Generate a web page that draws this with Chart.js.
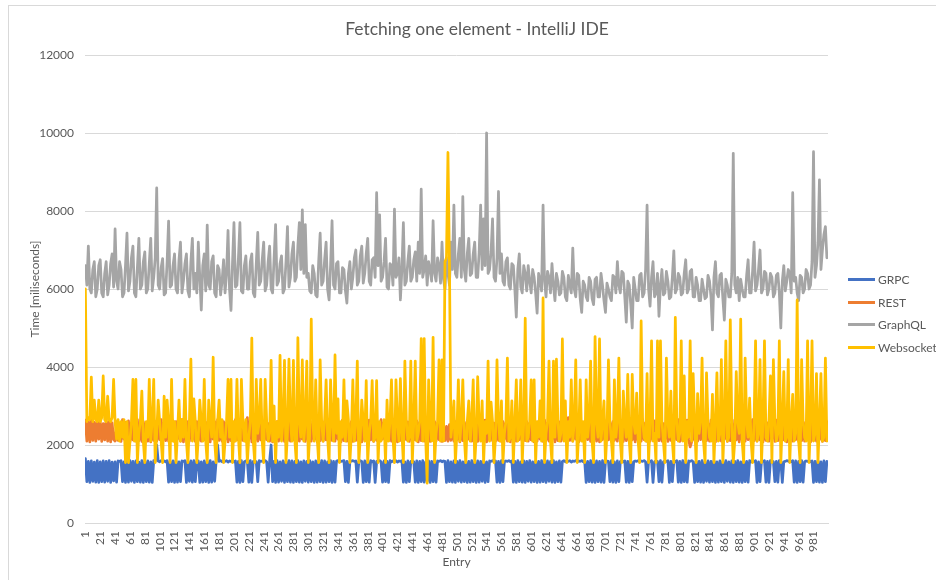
<!DOCTYPE html>
<html>
<head>
<meta charset="utf-8">
<title>Fetching one element - IntelliJ IDE</title>
<script src="https://cdn.jsdelivr.net/npm/chart.js@4.4.1/dist/chart.umd.min.js"></script>
<style>
  html, body { margin: 0; padding: 0; background: #fff; overflow: hidden; width: 936px; height: 580px; }
  #frame { position: absolute; left: 8px; top: 5px; width: 960px; height: 600px; border-left: 1px solid #d9d9d9; border-top: 1px solid #d9d9d9; }
  #chart { position: absolute; left: 0; top: 0; }
  #title { position: absolute; left: 0; width: 954px; top: 18px; text-align: center; font: 17.5px Lato, sans-serif; line-height: 22px; color: #595959; }
  #legend { position: absolute; left: 848px; top: 268px; font: 12px Lato, sans-serif; color: #595959; }
  .item { height: 22.7px; display: flex; align-items: center; }
  .swatch { width: 27px; height: 3px; margin-right: 3px; }
</style>
</head>
<body>
<div id="frame"></div>
<canvas id="chart" width="936" height="580"></canvas>
<div id="title">Fetching one element - IntelliJ IDE</div>
<div id="legend"></div>
<script>
// one value for every 2nd entry: 1, 3, 5 ... 999
const grpc = [
  1650, 1060, 1580, 1040, 1590, 1070, 1560, 1050, 1600, 1040, 1570, 1060, 1590, 1050, 1580, 1070, 1600, 1040, 1560, 1080,
  1570, 1050, 1590, 1580, 1600, 1060, 1570, 1040, 1590, 1050, 1600, 1070, 1580, 1040, 1590, 1060, 1560, 1050, 1600, 1040,
  1580, 1060, 1590, 1050, 1570, 1040, 1600, 1580, 2000, 1590, 1570, 1600, 1580, 1590, 1570, 1600, 1050, 1580, 1060, 1590,
  1040, 1600, 1050, 1570, 1060, 1590, 1580, 1600, 1040, 1580, 1070, 1590, 1050, 1600, 1060, 1580, 1590, 1040, 1570, 1050,
  1590, 1060, 1580, 1040, 1600, 1050, 1570, 1070, 1590, 2000, 1580, 1600, 1570, 1590, 1580, 1600, 1560, 1590, 1580, 1600,
  1570, 1590, 1050, 1580, 1040, 1600, 1060, 1570, 1590, 1580, 1050, 1600, 1040, 1580, 1590, 1570, 1060, 1600, 1580, 1590,
  1580, 1600, 1570, 1050, 1590, 2000, 1060, 1580, 1040, 1600, 1050, 1570, 1070, 1590, 1040, 1580, 1060, 1600, 1050, 1590,
  1040, 1580, 1060, 1600, 1050, 1570, 1040, 1590, 1070, 1580, 1050, 1600, 1060, 1570, 1040, 1590, 1050, 1580, 1060, 1600,
  1040, 1590, 1050, 1570, 1060, 1600, 1040, 1580, 1050, 1590, 1600, 1570, 1580, 1590, 1600, 1060, 1580, 1040, 1570, 1590,
  1600, 1580, 1590, 1050, 1570, 1600, 1580, 1040, 1590, 1060, 1580, 1050, 1600, 1570, 1590, 1040, 1580, 1590, 1600, 1570,
  1050, 1590, 1060, 1580, 1040, 1600, 1570, 1590, 1580, 1600, 1560, 1590, 1580, 1600, 1050, 1570, 1040, 1590, 1060, 1580,
  1600, 1570, 1050, 1590, 1040, 1580, 1060, 1600, 1050, 1570, 1070, 1590, 1040, 1580, 1060, 1600, 1050, 1590, 1580, 1600,
  1570, 1590, 1580, 1040, 1600, 1060, 1570, 1050, 1590, 1040, 1580, 1070, 1600, 1050, 1570, 1060, 1590, 1040, 1580, 1050,
  1600, 1060, 1570, 1040, 1590, 1050, 1580, 1070, 1600, 1040, 1570, 1060, 1590, 1580, 1600, 1570, 1590, 1050, 1580, 1040,
  1600, 1060, 1570, 1590, 1580, 1600, 1570, 1590, 1050, 1580, 1040, 1600, 1060, 1570, 1050, 1590, 1040, 1580, 1070, 1600,
  1050, 1570, 1060, 1590, 1040, 1580, 1050, 1600, 1060, 1570, 1040, 1590, 1070, 1580, 1050, 1600, 1040, 1570, 1060, 1590,
  1050, 1580, 1600, 1570, 1590, 1580, 1600, 1560, 1590, 1580, 1600, 1570, 1590, 1580, 1600, 1570, 1590, 1040, 1580, 1060,
  1600, 1050, 1570, 1040, 1590, 1060, 1580, 1050, 1600, 1040, 1570, 1590, 1580, 1060, 1600, 1050, 1570, 1040, 1590, 1060,
  1580, 1600, 1570, 1590, 1050, 1580, 1040, 1600, 1060, 1570, 1590, 1580, 1600, 1570, 1590, 1580, 1600, 1570, 1050, 1590,
  1580, 1600, 1040, 1570, 1590, 1580, 1060, 1600, 1050, 1570, 1590, 1580, 1600, 1040, 1580, 1060, 1590, 1570, 1600, 1050,
  1580, 1040, 1600, 1060, 1570, 1050, 1590, 1580, 1600, 1570, 1040, 1590, 1060, 1580, 1050, 1600, 1040, 1570, 1070, 1590,
  1050, 1580, 1060, 1600, 1040, 1570, 1050, 1590, 1060, 1580, 1040, 1600, 1070, 1570, 1050, 1590, 1040, 1580, 1060, 1600,
  1050, 1570, 1040, 1590, 1060, 1580, 1050, 1600, 1570, 1590, 1580, 1600, 1040, 1570, 1060, 1590, 1580, 1600, 1050, 1580,
  1040, 1600, 1590, 1570, 1060, 1580, 1050, 1600, 1590, 1040, 1570, 1580, 1600, 1590, 1570, 1580, 1600, 1050, 1590, 1040,
  1580, 1060, 1600, 1050, 1570, 1590, 1580, 1600, 1570, 1590, 1040, 1580, 1060, 1600, 1050, 1570, 1040, 1590, 1060, 1580
]

const rest = [
  2640, 2100, 2600, 2080, 2650, 2120, 2580, 2100, 2620, 2150, 2600, 2090, 2550, 2130, 2650, 2100, 2600, 2080, 2570, 2140,
  2100, 2600, 2120, 2550, 2090, 2650, 2150, 2580, 2100, 2620, 2080, 2560, 2130, 2600, 2100, 2650, 2110, 2540, 2090, 2600,
  2150, 2580, 2100, 2640, 2080, 2560, 2120, 2600, 2100, 2550, 2140, 2650, 2090, 2580, 2110, 2600, 2100, 2560, 2130, 2620,
  2090, 2600, 2150, 2550, 2100, 2650, 2080, 2570, 2120, 2600, 2100, 2640, 2140, 2560, 2090, 2600, 2110, 2550, 2100, 2650,
  2130, 2580, 2100, 2620, 2080, 2560, 2150, 2600, 2090, 2650, 2120, 2550, 2100, 2600, 2140, 2570, 2080, 2640, 2110, 2590,
  2100, 2650, 2130, 2560, 2090, 2600, 2120, 2550, 2100, 2700, 2150, 2580, 2080, 2600, 2110, 2560, 2100, 2640, 2130, 2570,
  2090, 2600, 2140, 2550, 2100, 2650, 2080, 2590, 2120, 2600, 2100, 2560, 2150, 2640, 2090, 2580, 2110, 2600, 2100, 2550,
  2130, 2620, 2080, 2560, 2100, 2600, 2150, 2570, 2090, 2650, 2120, 2550, 2100, 2600, 2140, 2580, 2080, 2640, 2110, 2560,
  2100, 2600, 2130, 2550, 2090, 2650, 2120, 2580, 2100, 2600, 2150, 2560, 2080, 2640, 2110, 2590, 2100, 2550, 2140, 2600,
  2090, 2570, 2120, 2650, 2100, 2560, 2080, 2600, 2140, 2550, 2100, 2640, 2130, 2580, 2090, 2600, 2120, 2560, 2100, 2650,
  2150, 2580, 2090, 2600, 2110, 2550, 2100, 2640, 2130, 2570, 2080, 2600, 2120, 2560, 2100, 2650, 2140, 2590, 2090, 2600,
  2100, 2550, 2130, 2620, 2080, 2580, 2110, 2600, 2100, 2560, 2150, 2640, 2090, 2570, 2120, 2600, 2100, 2550, 2140, 2650,
  2090, 2500, 2110, 2480, 2100, 2520, 2120, 2460, 2100, 2600, 2130, 2560, 2080, 2640, 2110, 2580, 2100, 2600, 2150, 2550,
  2100, 2650, 2120, 2570, 2090, 2600, 2140, 2550, 2100, 2640, 2080, 2580, 2130, 2600, 2110, 2560, 2100, 2650, 2120, 2590,
  2090, 2600, 2150, 2560, 2100, 2640, 2080, 2570, 2120, 2600, 2100, 2550, 2140, 2650, 2090, 2580, 2110, 2600, 2100, 2560,
  2130, 2620, 2080, 2550, 2100, 2600, 2150, 2580, 2090, 2640, 2120, 2560, 2100, 2600, 2140, 2570, 2080, 2650, 2110, 2590,
  2100, 2600, 2130, 2560, 2090, 2700, 2120, 2580, 2100, 2600, 2150, 2550, 2080, 2640, 2110, 2570, 2100, 2600, 2140, 2560,
  2090, 2650, 2120, 2580, 2100, 2560, 2080, 2600, 2140, 2550, 2100, 2640, 2130, 2570, 2090, 2600, 2120, 2560, 2100, 2650,
  2150, 2590, 2090, 2600, 2110, 2550, 2100, 2640, 2130, 2580, 2080, 2600, 2120, 2560, 2100, 2650, 2140, 2570, 2090, 2600,
  2100, 2560, 2130, 2620, 2080, 2580, 2110, 2600, 2100, 2550, 2150, 2640, 2090, 2570, 2120, 2600, 2100, 2560, 2140, 2650,
  2090, 2600, 2110, 2550, 2100, 2640, 2130, 1950, 2080, 2600, 2120, 2560, 2100, 2650, 2140, 2580, 2090, 2600, 2110, 2550,
  2100, 2640, 2130, 2570, 2080, 2600, 2120, 2560, 2100, 2650, 2150, 2580, 2090, 2600, 2110, 2550, 2100, 2640, 2130, 2570,
  2080, 2700, 2120, 2560, 2100, 2600, 2140, 2550, 2090, 2650, 2110, 2580, 2100, 2600, 2130, 2560, 2080, 2640, 2120, 2570,
  2100, 2600, 2150, 2550, 2090, 2640, 2110, 2580, 2100, 2600, 2130, 2560, 2080, 2650, 2120, 2570, 2100, 2600, 2140, 2550,
  2090, 2640, 2110, 2580, 2100, 2600, 2130, 2560, 2080, 2650, 2120, 2570, 2100, 2600, 2140, 2550, 2090, 2640, 2110, 2600
]

const graphql = [
  6600, 6100, 7100, 6000, 5900, 6500, 6700, 5800, 6000, 6600, 6750, 5900, 5800, 6400, 6700, 5850, 6100, 6650, 6900, 6050,
  7540, 6200, 6000, 6700, 6500, 5800, 5900, 6600, 7430, 5950, 6200, 6800, 7100, 5900, 5800, 6550, 7300, 6000, 6100, 6700,
  6950, 5900, 6000, 6650, 7300, 5950, 6300, 6800, 8590, 6100, 6000, 6550, 6780, 5850, 5900, 6700, 7740, 6050, 6100, 6600,
  6900, 6000, 5900, 6750, 7200, 5900, 6200, 6650, 6900, 5950, 5800, 6700, 7300, 6000, 6400, 5900, 7200, 6300, 5460, 6600,
  6900, 5950, 7640, 6100, 6000, 6700, 6850, 5900, 5800, 6600, 6500, 5850, 6200, 6750, 5900, 6400, 7500, 6000, 5450, 6650,
  7700, 6050, 6100, 6800, 7700, 5950, 5900, 6600, 6850, 6000, 6000, 6700, 6900, 5900, 5800, 6650, 7450, 6100, 6200, 6750,
  7200, 5950, 6100, 6700, 7100, 6000, 5900, 6800, 7650, 6100, 6200, 6650, 6850, 5900, 6000, 6700, 7600, 6050, 6300, 6900,
  7200, 6200, 6300, 7100, 7700, 6500, 8030, 6400, 7650, 6300, 6400, 5950, 5900, 6600, 6400, 5850, 5800, 6700, 7430, 6100,
  6200, 6750, 7200, 6000, 5720, 6600, 7750, 6100, 6000, 6650, 6700, 5900, 5900, 6550, 6500, 5950, 5640, 6400, 6700, 6000,
  6300, 6800, 7000, 6100, 6200, 6850, 7100, 6150, 6400, 6900, 7300, 6200, 6100, 6750, 6800, 6300, 8470, 6600, 7900, 6200,
  6300, 6700, 7300, 6050, 6000, 6650, 6600, 6100, 8050, 6300, 6400, 6800, 5720, 6500, 7700, 6100, 6200, 6700, 7100, 6200,
  6300, 6750, 6950, 6200, 7200, 6400, 8560, 6300, 6500, 6850, 6100, 6700, 6500, 6200, 7750, 6400, 6200, 6800, 6600, 6150,
  7200, 6250, 6000, 6800, 6400, 6100, 7200, 6500, 8150, 6400, 6300, 6900, 7300, 6300, 8370, 6500, 6200, 6900, 7300, 6350,
  6400, 6900, 7200, 6300, 6300, 6950, 8150, 6500, 7800, 6600, 10000, 6400, 6500, 6950, 7800, 6300, 6200, 6800, 8500, 6400,
  6900, 6200, 6100, 6700, 6800, 6100, 6000, 6650, 6600, 6000, 5280, 6500, 6900, 6050, 5900, 6600, 6400, 5950, 6600, 6200,
  5900, 6500, 6300, 5900, 5380, 6400, 6200, 5950, 8150, 6200, 5800, 6450, 6300, 5900, 6650, 6100, 5700, 6400, 6200, 5850,
  5900, 6450, 6300, 5800, 5700, 6350, 6100, 5900, 7050, 6000, 5800, 6400, 6350, 5750, 5400, 6200, 6100, 5800, 5700, 6300,
  6200, 5750, 5600, 6250, 6300, 5800, 5800, 6400, 6100, 5700, 5400, 6150, 6000, 5800, 5700, 6350, 6300, 5900, 6700, 6100,
  5900, 6450, 6400, 5800, 5150, 6200, 6100, 5600, 5000, 6300, 6000, 5700, 5700, 6350, 6400, 5800, 5900, 6500, 8150, 6000,
  5560, 6300, 6700, 5800, 5900, 6400, 5300, 6100, 6500, 5850, 5900, 6450, 6200, 5750, 5800, 6300, 6980, 5900, 6000, 6400,
  6300, 5850, 5900, 6400, 6750, 5900, 6000, 6450, 6500, 5800, 5800, 6300, 6100, 5700, 5700, 6250, 6000, 5750, 5800, 6350,
  6200, 5800, 4950, 6300, 6700, 5900, 5800, 6350, 6400, 5750, 5200, 6250, 6100, 5800, 5800, 6400, 9480, 6100, 5900, 6300,
  5700, 6250, 6000, 5800, 5800, 6350, 6750, 5900, 5900, 6450, 7200, 5950, 6100, 6500, 7000, 5900, 6000, 6450, 6400, 5850,
  6000, 6400, 6300, 5800, 5900, 6350, 6400, 5900, 5000, 6200, 6600, 5950, 6200, 6500, 6400, 5900, 8470, 6200, 6300, 5900,
  5700, 6350, 6300, 5900, 6000, 6500, 6400, 6000, 6100, 6700, 9520, 6300, 6600, 7200, 8800, 6500, 7000, 7400, 7600, 6800
]

const websocket = [
  6000, 2600, 2700, 2650, 3740, 2600, 3150, 2650, 2600, 3150, 2600, 2700, 3770, 2650, 2600, 3250, 2650, 2600, 2700, 3680,
  2600, 2150, 2650, 2100, 2600, 2200, 2650, 1550, 2600, 1550, 2100, 2600, 3680, 2100, 3680, 1550, 2300, 2600, 3380, 2100,
  1550, 2600, 2200, 3680, 2100, 2650, 3680, 1550, 2300, 3150, 2600, 2100, 1550, 3250, 2200, 3150, 2600, 1550, 3680, 2100,
  2600, 1550, 2300, 3150, 2100, 2650, 2200, 3680, 2100, 1550, 2600, 4200, 2100, 3180, 2600, 1550, 2200, 3150, 2600, 2100,
  3680, 2100, 1550, 3150, 2600, 2200, 4250, 2100, 1550, 2600, 3150, 2200, 2650, 1550, 2100, 2600, 3680, 2200, 3680, 1550,
  2600, 2100, 3680, 2200, 1550, 3680, 2600, 2100, 2650, 1550, 2200, 2600, 4740, 2100, 1550, 3680, 2300, 2600, 3680, 2100,
  1550, 3680, 2600, 2100, 2300, 4170, 2100, 3000, 1550, 2600, 2200, 4300, 2100, 2600, 4170, 1550, 2300, 4200, 2600, 2100,
  4170, 2100, 1550, 4750, 2600, 2200, 4180, 2100, 2600, 4150, 1550, 2300, 5230, 2600, 2100, 3670, 2200, 1550, 4180, 2600,
  2100, 2650, 3670, 2200, 1550, 3670, 2600, 2100, 4310, 2300, 3180, 1550, 2600, 2200, 3670, 2100, 3130, 2650, 1550, 2300,
  3670, 2100, 2600, 4150, 1550, 2200, 3150, 2600, 2100, 3650, 1550, 2300, 2600, 3650, 2100, 2200, 3650, 1550, 2600, 2100,
  2300, 2650, 1550, 3150, 2100, 2600, 3670, 2200, 1550, 3670, 2600, 2100, 3700, 2300, 1550, 4150, 2600, 2100, 2200, 4150,
  1550, 2600, 4150, 2100, 2300, 2600, 4730, 2100, 4730, 2200, 1020, 3670, 2600, 2100, 4760, 1550, 2300, 2600, 4180, 2100,
  4180, 2100, 6700, 6800, 9500, 6700, 2200, 2600, 3130, 1550, 2300, 3670, 2100, 2600, 3670, 2200, 1550, 2600, 3130, 2100,
  2650, 3670, 1550, 2200, 3750, 2600, 2100, 3130, 1550, 2600, 2300, 4150, 2100, 3100, 2600, 1550, 2200, 4180, 2600, 2100,
  3130, 1550, 2300, 2600, 4230, 2100, 2200, 3130, 1550, 2600, 3670, 2100, 2300, 3670, 1550, 2600, 5250, 2100, 2200, 2600,
  3670, 2100, 3670, 1550, 2600, 2200, 3130, 2100, 5770, 1550, 2300, 2600, 4150, 2100, 1550, 4150, 2200, 4200, 2600, 2100,
  2300, 4720, 2100, 3130, 1550, 2600, 2200, 3670, 2100, 2600, 4180, 1550, 2300, 3670, 2100, 2600, 1550, 3670, 2200, 2600,
  4150, 2100, 1550, 4780, 2600, 2200, 4720, 2100, 2600, 3130, 1550, 2300, 4180, 2600, 2100, 1550, 3670, 2200, 2600, 4230,
  2100, 1550, 3380, 2600, 2200, 3810, 2100, 1550, 3810, 2600, 2300, 3330, 2100, 1550, 5180, 2600, 2200, 2100, 3830, 1550,
  2600, 4670, 2100, 2300, 1550, 4670, 2200, 4670, 2600, 2100, 1550, 4230, 2600, 2200, 3380, 2100, 1550, 5270, 2600, 2100,
  2300, 4670, 2100, 3770, 1550, 2600, 2200, 4670, 2100, 3830, 2600, 1550, 3320, 2300, 2600, 4230, 2100, 1550, 3850, 2600,
  2200, 2100, 3300, 1550, 2600, 3850, 2100, 2300, 4190, 1550, 2600, 4670, 2100, 2200, 5210, 2600, 1550, 2100, 3880, 2600,
  2300, 5230, 2100, 1550, 4230, 2600, 2200, 3200, 2100, 1550, 2600, 4670, 2100, 2300, 4190, 1550, 2600, 4670, 2200, 2100,
  2600, 3770, 1550, 4190, 2600, 2100, 2300, 4670, 1550, 2600, 3880, 2100, 2200, 4190, 1550, 2600, 3300, 2100, 2300, 5720,
  2100, 1550, 4190, 2600, 2200, 2100, 4670, 1550, 2600, 4670, 2100, 2300, 3830, 1550, 2600, 3830, 2100, 2200, 4230, 2100
]

const xTicks = [1, 21, 41, 61, 81, 101, 121, 141, 161, 181, 201, 221, 241, 261, 281, 301, 321, 341, 361, 381,
  401, 421, 441, 461, 481, 501, 521, 541, 561, 581, 601, 621, 641, 661, 681, 701, 721, 741, 761, 781,
  801, 821, 841, 861, 881, 901, 921, 941, 961, 981]

const series = [
  { label: 'GRPC', values: grpc, color: '#4472C4' },
  { label: 'REST', values: rest, color: '#ED7D31' },
  { label: 'GraphQL', values: graphql, color: '#A5A5A5' },
  { label: 'Websocket', values: websocket, color: '#FFC000' },
]

const toPoints = vals => vals.map((v, i) => ({ x: 1 + i * 2, y: v }))

Chart.defaults.font.family = 'Lato, sans-serif'
Chart.defaults.font.size = 12
Chart.defaults.color = '#595959'

new Chart(document.getElementById('chart'), {
  type: 'line',
  data: {
    // later series are painted on top, like the spreadsheet does
    datasets: series.map((s, i) => ({
      label: s.label,
      data: toPoints(s.values),
      borderColor: s.color,
      backgroundColor: s.color,
      order: series.length - i,
    })),
  },
  options: {
    responsive: false,
    animation: false,
    layout: { padding: { left: 8, right: 108, top: 55, bottom: 0 } },
    elements: {
      point: { radius: 0 },
      line: { borderWidth: 2.75, tension: 0, borderJoinStyle: 'round', borderCapStyle: 'round' },
    },
    plugins: { legend: { display: false }, tooltip: { enabled: false } },
    scales: {
      x: {
        type: 'linear',
        min: 0.5,
        max: 1000.5,
        afterBuildTicks: s => { s.ticks = xTicks.map(v => ({ value: v })) },
        afterFit: s => { s.height = 57 },
        grid: { display: false, drawTicks: false },
        border: { color: '#d9d9d9' },
        ticks: { autoSkip: false, minRotation: 90, maxRotation: 90, padding: 8, callback: v => String(v) },
        title: { display: true, text: 'Entry', padding: { top: 0, bottom: 11 } },
      },
      y: {
        min: 0,
        max: 12000,
        afterFit: s => { s.width = 77 },
        grid: { color: '#d9d9d9', drawTicks: false },
        border: { display: false },
        ticks: { stepSize: 2000, padding: 11, callback: v => String(v) },
        title: { display: true, text: 'Time [miliseconds]', padding: { top: 20, bottom: 0 } },
      },
    },
  },
})

document.getElementById('legend').innerHTML = series.map(s =>
  `<div class="item"><span class="swatch" style="background:${s.color}"></span>${s.label}</div>`
).join('')
</script>
</body>
</html>
